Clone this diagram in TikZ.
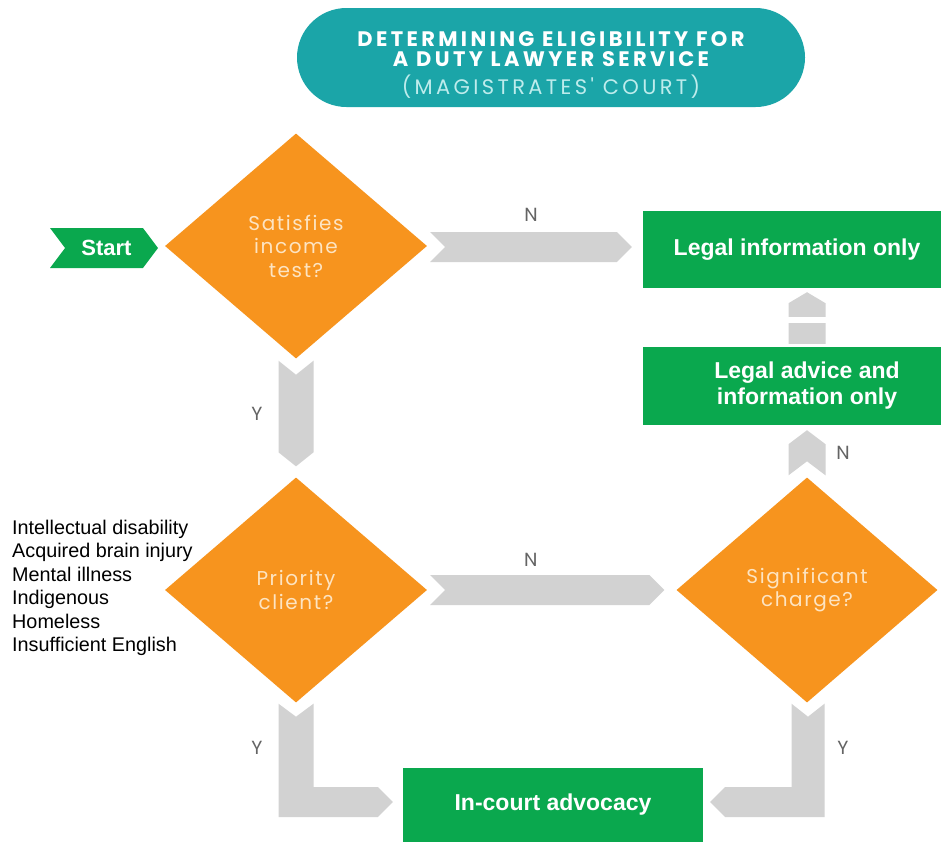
\documentclass[tikz,border=0pt]{standalone}
\usepackage{fontspec}
\setmainfont{Liberation Sans}
\newfontfamily\popfont{Poppins}[LetterSpace=8]
\newfontfamily\titlefont{Poppins}[LetterSpace=16]
\usetikzlibrary{shapes.geometric,shapes.symbols,calc}

\definecolor{titleteal}{RGB}{27,165,168}
\definecolor{subtitlecyan}{RGB}{190,236,236}
\definecolor{decorange}{RGB}{247,148,30}
\definecolor{boxgreen}{RGB}{10,168,78}
\definecolor{flowgray}{RGB}{210,210,210}
\definecolor{labelgray}{RGB}{100,100,100}
\definecolor{paletext}{RGB}{253,228,194}

\tikzset{
  decision/.style={diamond, fill=decorange, minimum width=262pt, minimum height=225pt,
    inner sep=0pt, text=paletext, align=center,
    font=\popfont\fontsize{20}{23.5}\selectfont},
  outcome/.style={rectangle, fill=boxgreen, text=white, align=center, inner sep=0pt,
    font=\bfseries\fontsize{23}{26}\selectfont},
  flow/.style={fill=flowgray},
  yn/.style={text=labelgray, font=\popfont\fontsize{19}{19}\selectfont, inner sep=0pt},
}

\begin{document}
\begin{tikzpicture}[x=1pt,y=-1pt]
\useasboundingbox (0,0) rectangle (941,841);
\fill[white] (0,0) rectangle (941,841);
\clip (0,0) rectangle (941,841);

% heading
\node[fill=titleteal, rounded corners=49.5pt, minimum width=508pt, minimum height=99pt,
      inner sep=0pt] (title) at (551,57.5) {};
\node[align=center, text=white, inner sep=0pt,
      font=\titlefont\bfseries\fontsize{21}{20}\selectfont] (titletext) at (551,49)
  {DETERMINING ELIGIBILITY FOR\\A DUTY LAWYER SERVICE};
\node[text=subtitlecyan, inner sep=0pt, font=\titlefont\fontsize{21}{20}\selectfont]
  (subtitle) at (551,87) {(MAGISTRATES' COURT)};

% start marker
\node[signal, signal to=east, signal from=west, fill=boxgreen, text=white,
      font=\bfseries\fontsize{22}{22}\selectfont, minimum width=108pt, minimum height=40pt,
      signal pointer angle=106, inner sep=0pt] (start) at (104,248) {\hspace{5pt}Start};

% decisions
\node[decision] (d1) at (296,246) {\raisebox{-3pt}{\parbox{150pt}{\centering Satisfies\\income\\test?}}};
\node[decision] (d2) at (296,590) {Priority\\client?};
\node[decision, minimum width=261pt] (d3) at (807,590) {Significant\\charge?};

% outcomes
\node[outcome, minimum width=308pt, minimum height=77pt] (info) at (797,249.5) {Legal information only};
\node[outcome, minimum width=328pt, minimum height=78pt] (advice) at (807,386) {Legal advice and\\information only};
\node[outcome, minimum width=300pt, minimum height=74pt] (incourt) at (553,805) {In-court advocacy};

% priority client categories
\node[anchor=north west, align=left, inner sep=0pt, font=\fontsize{19.8}{23.4}\selectfont] (cats) at (12,520)
  {Intellectual disability\\Acquired brain injury\\Mental illness\\Indigenous\\Homeless\\Insufficient English};

% income test -> legal information (N)
\coordinate (a1) at ($(d1.east)+(3,1)$);
\coordinate (b1) at ($(info.west |- a1)+(-11,0)$);
\fill[flow] ($(a1)+(0,-15)$) -- ($(b1)+(-15,-15)$) -- (b1) -- ($(b1)+(-15,15)$)
  -- ($(a1)+(0,15)$) -- ($(a1)+(15,0)$) -- cycle;
\node[yn] at ($(a1)!0.5!(b1)+(0,-32)$) {N};

% income test -> priority client (Y)
\coordinate (a2) at ($(d1.south)+(0,2)$);
\coordinate (b2) at ($(d2.north)+(0,-11)$);
\fill[flow] ($(a2)+(-17.5,0)$) -- ($(a2)+(0,14)$) -- ($(a2)+(17.5,0)$)
  -- ($(b2)+(17.5,-14)$) -- (b2) -- ($(b2)+(-17.5,-14)$) -- cycle;
\node[yn] at ($(a2)!0.5!(b2)+(-39,0)$) {Y};

% priority client -> significant charge (N)
\coordinate (a3) at ($(d2.east)+(3,0)$);
\coordinate (b3) at ($(d3.west)+(-12,0)$);
\fill[flow] ($(a3)+(0,-15)$) -- ($(b3)+(-15,-15)$) -- (b3) -- ($(b3)+(-15,15)$)
  -- ($(a3)+(0,15)$) -- ($(a3)+(15,0)$) -- cycle;
\node[yn] at ($(a3)!0.43!(b3)+(0,-30)$) {N};

% significant charge -> legal advice (N)
\coordinate (a4) at ($(d3.north)+(0,-2)$);
\coordinate (b4) at ($(d3.north |- advice.south)+(0,5)$);
\fill[flow] ($(a4)+(-18.5,0)$) -- ($(b4)+(-18.5,14)$) -- (b4) -- ($(b4)+(18.5,14)$)
  -- ($(a4)+(18.5,0)$) -- ($(a4)+(0,-14)$) -- cycle;
\node[yn] at ($(a4)!0.5!(b4)+(36,0)$) {N};

% legal advice -> legal information
\coordinate (a5) at ($(d3.north |- advice.north)+(0,-3)$);
\coordinate (b5) at ($(d3.north |- info.south)+(0,4)$);
\fill[flow] ($(a5)+(-18.5,0)$) -- ($(b5)+(-18.5,11)$) -- (b5) -- ($(b5)+(18.5,11)$)
  -- ($(a5)+(18.5,0)$) -- cycle;
\fill[white] ($(b5)+(-20,25)$) rectangle ($(b5)+(20,31)$);

% priority client -> in-court advocacy (Y)
\coordinate (a6) at ($(d2.south)+(0,1)$);
\coordinate (b6) at ($(incourt.west)+(-10,-3)$);
\fill[flow] ($(a6)+(-17.5,0)$) -- ($(a6)+(0,13)$) -- ($(a6)+(17.5,0)$)
  -- ($(a6 |- b6)+(17.5,-15)$) -- ($(b6)+(-15,-15)$) -- (b6) -- ($(b6)+(-15,15)$)
  -- ($(a6 |- b6)+(-17.5,15)$) -- cycle;
\node[yn] at ($(a6)+(-39,44)$) {Y};

% significant charge -> in-court advocacy (Y)
\coordinate (a7) at ($(d3.south)+(1,1)$);
\coordinate (b7) at ($(incourt.east)+(7,-3)$);
\fill[flow] ($(a7)+(-16.5,0)$) -- ($(a7)+(0,13)$) -- ($(a7)+(16.5,0)$)
  -- ($(a7 |- b7)+(16.5,15)$) -- ($(b7)+(15,15)$) -- (b7) -- ($(b7)+(15,-15)$)
  -- ($(a7 |- b7)+(-16.5,-15)$) -- cycle;
\node[yn] at ($(a7)+(35,44)$) {Y};

\end{tikzpicture}
\end{document}
